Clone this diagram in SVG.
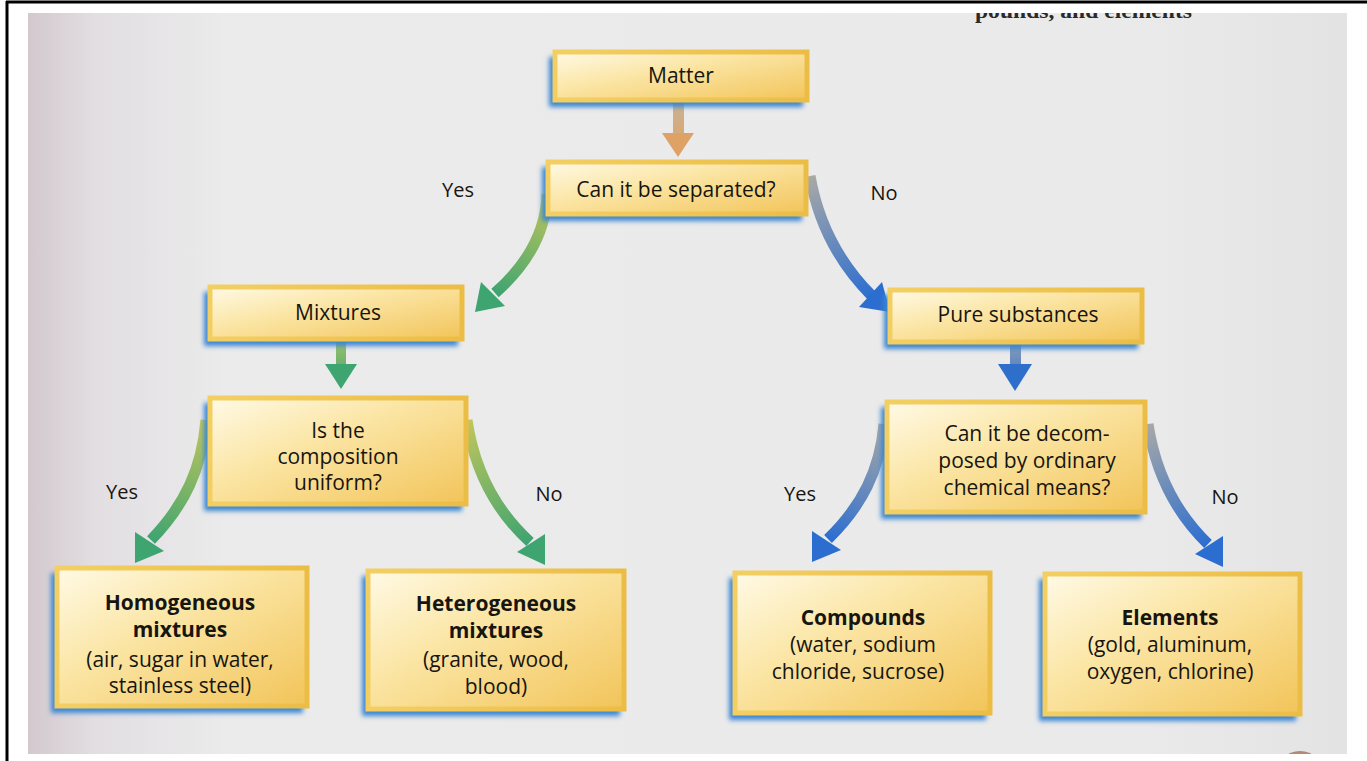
<svg xmlns="http://www.w3.org/2000/svg" width="1367" height="761" viewBox="0 0 1367 761">
<style>
  .t { font-family: "Open Sans", "Noto Sans", sans-serif; font-size: 21px; fill: #17150f; text-anchor: middle; }
  .b { font-weight: bold; }
  .lbl { font-family: "Open Sans", "Noto Sans", sans-serif; font-size: 20px; fill: #17150f; text-anchor: middle; }
  .box { fill: url(#boxFill); stroke: url(#boxEdge); stroke-width: 5; }
  .shadow { fill: #3a86d2; filter: url(#blur); }
  .shaft { fill: none; stroke-width: 11; stroke-linecap: butt; }
</style>
<defs>
  <linearGradient id="bg" x1="0" y1="0" x2="1" y2="0">
    <stop offset="0" stop-color="#d3c8ce"/>
    <stop offset="0.05" stop-color="#e2dee2"/>
    <stop offset="0.15" stop-color="#ebebeb"/>
    <stop offset="0.85" stop-color="#eaeaea"/>
    <stop offset="1" stop-color="#e3e3e3"/>
  </linearGradient>
  <linearGradient id="boxFill" x1="0" y1="0" x2="1" y2="1">
    <stop offset="0" stop-color="#fffae6"/>
    <stop offset="0.4" stop-color="#fbe6a6"/>
    <stop offset="1" stop-color="#f2c459"/>
  </linearGradient>
  <linearGradient id="boxEdge" x1="0" y1="0" x2="1" y2="0">
    <stop offset="0" stop-color="#f3cf63"/>
    <stop offset="1" stop-color="#ecbd45"/>
  </linearGradient>
  <filter id="blur" x="-10%" y="-20%" width="120%" height="140%">
    <feGaussianBlur stdDeviation="2.5"/>
  </filter>
  <linearGradient id="gMatter" x1="0" y1="102" x2="0" y2="157" gradientUnits="userSpaceOnUse">
    <stop offset="0" stop-color="#c9b394"/>
    <stop offset="1" stop-color="#e0a265"/>
  </linearGradient>
  <linearGradient id="gMix" x1="0" y1="341" x2="0" y2="389" gradientUnits="userSpaceOnUse">
    <stop offset="0" stop-color="#9cc06a"/>
    <stop offset="1" stop-color="#3da272"/>
  </linearGradient>
  <linearGradient id="gPure" x1="0" y1="343" x2="0" y2="391" gradientUnits="userSpaceOnUse">
    <stop offset="0" stop-color="#8a9db5"/>
    <stop offset="1" stop-color="#2f6fcc"/>
  </linearGradient>
  <linearGradient id="gYes1" x1="547" y1="194" x2="495" y2="293" gradientUnits="userSpaceOnUse">
    <stop offset="0" stop-color="#c2c65c"/>
    <stop offset="1" stop-color="#3ea470"/>
  </linearGradient>
  <linearGradient id="gNo1" x1="810" y1="176" x2="872" y2="296" gradientUnits="userSpaceOnUse">
    <stop offset="0" stop-color="#a9a9a6"/>
    <stop offset="1" stop-color="#2c6ed0"/>
  </linearGradient>
  <linearGradient id="gYes2" x1="206" y1="420" x2="151" y2="540" gradientUnits="userSpaceOnUse">
    <stop offset="0" stop-color="#c2c65c"/>
    <stop offset="1" stop-color="#3ea470"/>
  </linearGradient>
  <linearGradient id="gNo2" x1="467" y1="420" x2="530" y2="542" gradientUnits="userSpaceOnUse">
    <stop offset="0" stop-color="#c2c65c"/>
    <stop offset="1" stop-color="#3ea470"/>
  </linearGradient>
  <linearGradient id="gYes3" x1="884" y1="424" x2="828" y2="539" gradientUnits="userSpaceOnUse">
    <stop offset="0" stop-color="#a9a9a6"/>
    <stop offset="1" stop-color="#2c6ed0"/>
  </linearGradient>
  <linearGradient id="gNo3" x1="1148" y1="424" x2="1208" y2="544" gradientUnits="userSpaceOnUse">
    <stop offset="0" stop-color="#a9a9a6"/>
    <stop offset="1" stop-color="#2c6ed0"/>
  </linearGradient>
  <clipPath id="photo">
    <rect x="28" y="13" width="1319" height="741"/>
  </clipPath>
</defs>

<!-- page frame -->
<rect x="0" y="0" width="1367" height="761" fill="#ffffff"/>
<rect x="28" y="13" width="1319" height="741" fill="url(#bg)"/>
<line x1="6" y1="2" x2="1367" y2="2" stroke="#000" stroke-width="3"/>
<line x1="7" y1="1" x2="7" y2="761" stroke="#000" stroke-width="3"/>
<g clip-path="url(#photo)">
  <text x="975" y="18" font-family="Liberation Serif, serif" font-size="20" font-weight="bold" fill="#2a2a2a" textLength="217" lengthAdjust="spacingAndGlyphs">pounds, and elements</text>
  <circle cx="1300" cy="775" r="24" fill="#b08a76"/>
</g>

<!-- labels -->
<g id="labels">
  <text class="lbl" x="458" y="197">Yes</text>
  <text class="lbl" x="884" y="200">No</text>
  <text class="lbl" x="122" y="499">Yes</text>
  <text class="lbl" x="549" y="501">No</text>
  <text class="lbl" x="800" y="501">Yes</text>
  <text class="lbl" x="1225" y="504">No</text>
</g>

<!-- connectors -->
<g id="connectors">
  <rect x="673" y="102" width="11" height="32" fill="url(#gMatter)"/>
  <polygon points="662,133 694,133 678,157" fill="#dea266"/>

  <path class="shaft" d="M 547 194 C 546 232, 528 264, 495 293" stroke="url(#gYes1)"/>
  <polygon points="505,306 481,282 475,312" fill="#3ea470"/>

  <path class="shaft" d="M 810 176 C 818 222, 838 262, 872 296" stroke="url(#gNo1)"/>
  <polygon points="859,307 882,282 890,312" fill="#2c6ed0"/>

  <rect x="336" y="341" width="10" height="24" fill="url(#gMix)"/>
  <polygon points="325,364 357,364 341,389" fill="#3ea470"/>

  <rect x="1010" y="343" width="11" height="22" fill="url(#gPure)"/>
  <polygon points="998,364 1032,364 1015,391" fill="#2f6fcc"/>

  <path class="shaft" d="M 206 420 C 202 468, 185 505, 151 540" stroke="url(#gYes2)"/>
  <polygon points="164,551 135,532 135,563" fill="#3ea470"/>

  <path class="shaft" d="M 467 420 C 474 468, 495 510, 530 542" stroke="url(#gNo2)"/>
  <polygon points="517,552 545,534 545,565" fill="#3ea470"/>

  <path class="shaft" d="M 884 424 C 880 470, 862 506, 828 539" stroke="url(#gYes3)"/>
  <polygon points="841,550 812,531 812,562" fill="#2c6ed0"/>

  <path class="shaft" d="M 1148 424 C 1155 470, 1175 512, 1208 544" stroke="url(#gNo3)"/>
  <polygon points="1195,554 1223,536 1223,567" fill="#2c6ed0"/>
</g>

<!-- nodes -->
<g id="matter">
  <rect class="shadow" x="549" y="57" width="254" height="50"/>
  <rect class="box" x="555" y="52" width="252" height="48"/>
  <text class="t" x="681" y="83">Matter</text>
</g>
<g id="separated">
  <rect class="shadow" x="542" y="167" width="260" height="54"/>
  <rect class="box" x="548" y="162" width="258" height="52"/>
  <text class="t" x="676" y="197">Can it be separated?</text>
</g>
<g id="mixtures">
  <rect class="shadow" x="204" y="292" width="254" height="54"/>
  <rect class="box" x="210" y="287" width="252" height="52"/>
  <text class="t" x="338" y="320">Mixtures</text>
</g>
<g id="pure">
  <rect class="shadow" x="884" y="295" width="254" height="54"/>
  <rect class="box" x="890" y="290" width="252" height="52"/>
  <text class="t" x="1018" y="322">Pure substances</text>
</g>
<g id="uniform">
  <rect class="shadow" x="204" y="403" width="258" height="108"/>
  <rect class="box" x="210" y="398" width="256" height="106"/>
  <text class="t" x="338" y="438">Is the</text>
  <text class="t" x="338" y="464">composition</text>
  <text class="t" x="338" y="490">uniform?</text>
</g>
<g id="decompose">
  <rect class="shadow" x="881" y="407" width="260" height="112"/>
  <rect class="box" x="887" y="402" width="258" height="110"/>
  <text class="t" x="1027" y="441">Can it be decom-</text>
  <text class="t" x="1027" y="468">posed by ordinary</text>
  <text class="t" x="1027" y="495">chemical means?</text>
</g>
<g id="homogeneous">
  <rect class="shadow" x="51" y="573" width="252" height="140"/>
  <rect class="box" x="57" y="568" width="250" height="138"/>
  <text class="t b" x="180" y="610">Homogeneous</text>
  <text class="t b" x="180" y="637">mixtures</text>
  <text class="t" x="180" y="667">(air, sugar in water,</text>
  <text class="t" x="180" y="693">stainless steel)</text>
</g>
<g id="heterogeneous">
  <rect class="shadow" x="362" y="576" width="258" height="140"/>
  <rect class="box" x="368" y="571" width="256" height="138"/>
  <text class="t b" x="496" y="611">Heterogeneous</text>
  <text class="t b" x="496" y="638">mixtures</text>
  <text class="t" x="496" y="667">(granite, wood,</text>
  <text class="t" x="496" y="694">blood)</text>
</g>
<g id="compounds">
  <rect class="shadow" x="729" y="578" width="257" height="142"/>
  <rect class="box" x="735" y="573" width="255" height="140"/>
  <text class="t b" x="863" y="625">Compounds</text>
  <text class="t" x="863" y="652">(water, sodium</text>
  <text class="t" x="858" y="679">chloride, sucrose)</text>
</g>
<g id="elements">
  <rect class="shadow" x="1039" y="579" width="257" height="142"/>
  <rect class="box" x="1045" y="574" width="255" height="140"/>
  <text class="t b" x="1170" y="625">Elements</text>
  <text class="t" x="1170" y="652">(gold, aluminum,</text>
  <text class="t" x="1170" y="679">oxygen, chlorine)</text>
</g>
</svg>
